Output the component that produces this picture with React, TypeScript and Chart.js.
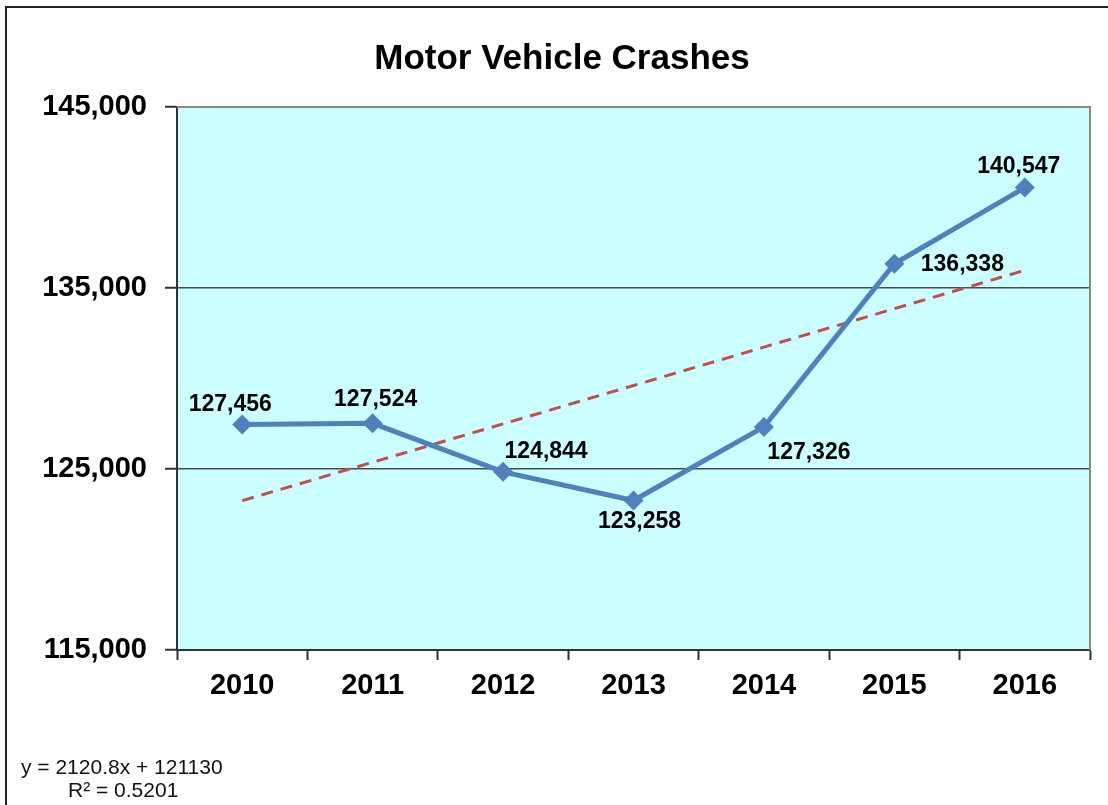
import React, { useEffect, useRef } from "react";
import { Chart, registerables } from "chart.js";

Chart.register(...registerables);

const years = ["2010", "2011", "2012", "2013", "2014", "2015", "2016"];
const crashes = [127456, 127524, 124844, 123258, 127326, 136338, 140547];
// trendline values from y = 2120.8x + 121130 at x = 1..7
const trendValues = [123251, 125372, 127492, 129613, 131734, 133855, 135976];
const yTicks = [115000, 125000, 135000, 145000];
const chartTitle = "Motor Vehicle Crashes";
const equationLines = ["y = 2120.8x + 121130", "R\u00b2 = 0.5201"];

// label offsets (style) relative to each point
const labelOffsets = [
  [-12, -20],
  [3, -24],
  [43, -20],
  [6, 21],
  [45, 26],
  [68, 1],
  [-6, -21],
];

const FONT = '"Liberation Sans", Arial, sans-serif';

export default function App() {
  const ref = useRef<HTMLCanvasElement | null>(null);

  useEffect(() => {
    if (!ref.current) return;
    const decor = {
      id: "decor",
      beforeDraw(chart: any) {
        const { ctx, chartArea: a } = chart;
        ctx.save();
        ctx.fillStyle = "#CCFFFF";
        ctx.fillRect(a.left, a.top, a.right - a.left, a.bottom - a.top);
        ctx.restore();
      },
      afterDatasetsDraw(chart: any) {
        const { ctx, chartArea: a } = chart;
        ctx.save();
        // top and right plot borders
        ctx.strokeStyle = "#8a8a8a";
        ctx.lineWidth = 2;
        ctx.beginPath();
        ctx.moveTo(a.left, a.top);
        ctx.lineTo(a.right, a.top);
        ctx.lineTo(a.right, a.bottom);
        ctx.stroke();
        // data labels
        const meta = chart.getDatasetMeta(0);
        ctx.fillStyle = "#000";
        ctx.font = `bold 23px ${FONT}`;
        ctx.textAlign = "center";
        ctx.textBaseline = "middle";
        meta.data.forEach((p: any, i: number) => {
          const [dx, dy] = labelOffsets[i];
          ctx.fillText(crashes[i].toLocaleString("en-US"), p.x + dx, p.y + dy);
        });
        ctx.restore();
      },
      afterDraw(chart: any) {
        const { ctx } = chart;
        ctx.save();
        // outer frame
        ctx.strokeStyle = "#222";
        ctx.lineWidth = 2;
        ctx.beginPath();
        ctx.moveTo(6, 820);
        ctx.lineTo(6, 7);
        ctx.lineTo(1120, 7);
        ctx.stroke();
        // title
        ctx.fillStyle = "#000";
        ctx.font = `bold 35px ${FONT}`;
        ctx.textAlign = "center";
        ctx.textBaseline = "middle";
        ctx.fillText(chartTitle, 562, 59);
        // equation
        ctx.font = `21px ${FONT}`;
        ctx.textAlign = "left";
        ctx.textBaseline = "alphabetic";
        ctx.fillStyle = "#111";
        ctx.fillText(equationLines[0], 21, 774);
        ctx.fillText(equationLines[1], 68, 797);
        ctx.restore();
      },
    };

    const chart = new Chart(ref.current, {
      type: "line",
      data: {
        labels: years,
        datasets: [
          {
            label: "Crashes",
            data: crashes,
            borderColor: "#4F81BD",
            backgroundColor: "#4F81BD",
            borderWidth: 5,
            pointStyle: "rectRot",
            pointRadius: 10,
            pointBorderWidth: 0,
            pointBackgroundColor: "#4F81BD",
            tension: 0,
          },
          {
            label: "Trend",
            data: trendValues,
            borderColor: "#C0504D",
            borderWidth: 3,
            borderDash: [12, 8],
            pointRadius: 0,
            tension: 0,
          },
        ],
      },
      options: {
        animation: false,
        responsive: false,
        devicePixelRatio: 1,
        layout: { padding: { left: 0, top: 107, right: 18, bottom: 0 } },
        plugins: {
          legend: { display: false },
          title: { display: false },
          tooltip: { enabled: false },
        },
        scales: {
          x: {
            offset: true,
            grid: {
              offset: true,
              drawOnChartArea: false,
              drawTicks: true,
              tickLength: 10,
              tickColor: "#333",
              tickWidth: 2,
            },
            border: { display: true, color: "#333", width: 2 },
            ticks: {
              color: "#000",
              font: { family: FONT, size: 29, weight: "bold" },
              padding: 9,
            },
            afterFit(s: any) {
              s.height = 155;
            },
          },
          y: {
            min: 115000,
            max: 145000,
            afterBuildTicks(s: any) {
              s.ticks = yTicks.map((v) => ({ value: v }));
            },
            grid: {
              color: (c: any) => {
                const v = c.tick && c.tick.value;
                if (v === 125000 || v === 135000) return "#4a4a4a";
                if (v === 145000) return "#8a8a8a";
                return "rgba(0,0,0,0)";
              },
              lineWidth: 1.5,
              drawTicks: true,
              tickLength: 12,
              tickColor: "#333",
              tickWidth: 2,
            },
            border: { display: true, color: "#333", width: 2 },
            ticks: {
              color: "#000",
              font: { family: FONT, size: 29, weight: "bold" },
              padding: 18,
              callback: (v: any) => Number(v).toLocaleString("en-US"),
            },
            afterFit(s: any) {
              s.width = 177;
            },
          },
        },
      },
      plugins: [decor],
    } as any);
    return () => chart.destroy();
  }, []);

  return (
    <div style={{ position: "fixed", left: 0, top: 0, width: 1108, height: 805, background: "#fff" }}>
      <canvas ref={ref} width={1108} height={805} />
    </div>
  );
}
